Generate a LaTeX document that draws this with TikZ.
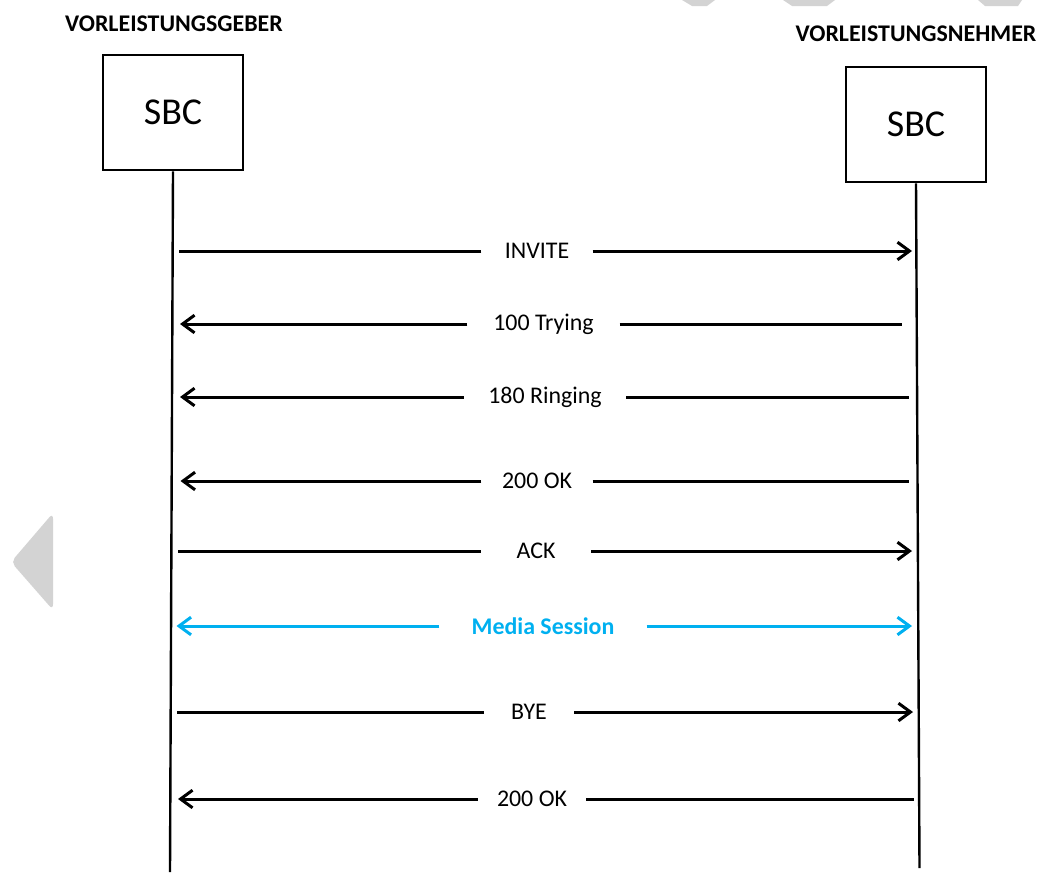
\documentclass[tikz,border=0pt]{standalone}
\usepackage{fontspec}
\setmainfont{Carlito}
\usetikzlibrary{arrows.meta}
\definecolor{sipBlue}{HTML}{00B0F0}
\definecolor{wmGray}{HTML}{D3D3D3}
\tikzset{
  party/.style={font=\fontsize{17}{20}\selectfont\bfseries, inner sep=0pt},
  sbc/.style={draw=black, line width=0.65mm, minimum width=35mm, minimum height=28.75mm, inner sep=0pt, font=\fontsize{27}{32}\selectfont},
  life/.style={line width=0.6mm, black},
  msg/.style={font=\fontsize{17}{20}\selectfont, inner ysep=0pt},
  wire/.style={line width=0.75mm},
  sig/.style={wire, -{Straight Barb[length=3mm, width=4.4mm]}},
}
\begin{document}
\begin{tikzpicture}[x=0.25mm,y=-0.25mm]
\useasboundingbox (0,0) rectangle (1040,872);
% ================= watermark shapes =================
\fill[wmGray] (682,0) -- (715,0) -- (707,6) -- (692,6) -- cycle;
\fill[wmGray] (783,0) -- (835,0) -- (827,6) -- (792,6) -- cycle;
\fill[wmGray] (978,0) -- (1022,0) -- (1018,6) -- (985,6) -- cycle;
\fill[wmGray, rounded corners=4pt] (53,513) -- (53,610) -- (11,562) -- cycle;
% ================= parties =================
\node[party] (geber) at (174,24) {VORLEISTUNGSGEBER};
\node[party] (nehmer) at (916,34) {VORLEISTUNGSNEHMER};
\node[sbc] (sbcL) at (173,112.5) {SBC};
\node[sbc] (sbcR) at (916,124.5) {SBC};
\coordinate (endL) at (170,872); \coordinate (endR) at (919.5,868);
\draw[life] (sbcL.south) -- (endL);
\draw[life] (sbcR.south) -- (endR);
% ================= messages =================
\foreach \nm/\y/\xl/\xt/\xr/\g/\txt/\la/\ra/\col in {
  inv/251/179/537/912/5.8mm/INVITE/wire/sig/black,
  try/324/180/543.5/902/6.4mm/100 Trying/sig/wire/black,
  ring/397/180/545/909/6.1mm/180 Ringing/sig/wire/black,
  okA/481/180.5/537/908.5/5.1mm/200 OK/sig/wire/black,
  ack/551/178/536/912/8.9mm/ACK/wire/sig/black,
  med/626/176.5/543/912/8mm/{\bfseries Media Session}/sig/sig/sipBlue,
  bye/712/176.5/529/913/6.8mm/BYE/wire/sig/black,
  okB/799/178/532/914/4.7mm/200 OK/sig/wire/black}{
  \node[msg, inner xsep=\g, text=\col] (\nm) at (\xt,\y) {\txt};
  \coordinate (\nm-l) at (\xl,\y); \coordinate (\nm-r) at (\xr,\y);
  \draw[\la, \col] (\nm) -- (\nm-l); \draw[\ra, \col] (\nm) -- (\nm-r);}
\end{tikzpicture}
\end{document}
